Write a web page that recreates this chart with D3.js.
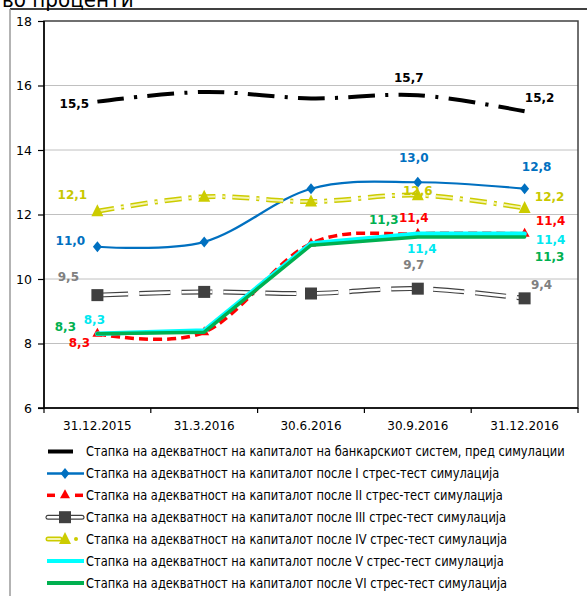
<!DOCTYPE html>
<html><head><meta charset="utf-8">
<script src="https://cdn.jsdelivr.net/npm/d3@7"></script>
<style>body{margin:0;background:#fff;overflow:hidden} svg{display:block}</style>
</head><body><svg id="c" width="587" height="596"></svg>
<script>
// ---- data ----
const categories = ["31.12.2015", "31.3.2016", "30.6.2016", "30.9.2016", "31.12.2016"];
const seriesNames = [
  "Стапка на адекватност на капиталот на банкарскиот систем, пред симулации",
  "Стапка на адекватност на капиталот после I стрес-тест симулација",
  "Стапка на адекватност на капиталот после II стрес-тест симулација",
  "Стапка на адекватност на капиталот после III стрес-тест симулација",
  "Стапка на адекватност на капиталот после IV стрес-тест симулација",
  "Стапка на адекватност на капиталот после V стрес-тест симулација",
  "Стапка на адекватност на капиталот после VI стрес-тест симулација"
];
const beforeSim = [15.5, 15.8, 15.6, 15.7, 15.2];
const stress1 = [11.0, 11.15, 12.8, 13.0, 12.8];
const stress2 = [8.3, 8.35, 11.1, 11.4, 11.4];
const stress3 = [9.5, 9.6, 9.55, 9.7, 9.4];
const stress4 = [12.1, 12.55, 12.4, 12.6, 12.2];
const stress5 = [8.3, 8.4, 11.1, 11.4, 11.4];
const stress6 = [8.3, 8.35, 11.05, 11.3, 11.3];
const labelledPoints = [0, 3, 4];
const yTicks = [6, 8, 10, 12, 14, 16, 18];
const titleText = "во проценти";

// ---- layout ----
const svg = d3.select("#c");
const L = 44, R = 578, T = 21, B = 408;
const x = d3.scaleBand().domain(categories).range([L, R]);
const y = d3.scaleLinear().domain([6, 18]).range([B, T]);
const cx = c => x(c) + x.bandwidth() / 2;
const fontReg = "'DejaVu Sans', sans-serif";
const fmt = v => d3.format(".1f")(v).replace(".", ",");

// outer frame
svg.append("line").attr("x1", 10).attr("x2", 587).attr("y1", 9).attr("y2", 9).attr("stroke", "#000").attr("stroke-width", 1.5);
svg.append("line").attr("x1", 10).attr("x2", 10).attr("y1", 9).attr("y2", 596).attr("stroke", "#9a9a9a").attr("stroke-width", 1.5);
svg.append("text").attr("x", 2).attr("y", 7).attr("font-family", fontReg).attr("font-size", 21)
  .attr("fill", "#000").attr("transform", "translate(2,0) scale(0.95,1) translate(-2,0)").text(titleText);

// gridlines
svg.append("g").selectAll("line").data(yTicks.filter(t => t > 6 && t < 18)).join("line")
  .attr("x1", L).attr("x2", R).attr("y1", d => y(d)).attr("y2", d => y(d))
  .attr("stroke", "#c0c0c0").attr("stroke-width", 1);

// plot border
svg.append("rect").attr("x", L).attr("y", T).attr("width", R - L).attr("height", B - T)
  .attr("fill", "none").attr("stroke", "#404040").attr("stroke-width", 1.5);

// axes
const yAxis = svg.append("g").attr("transform", `translate(${L},0)`)
  .call(d3.axisLeft(y).tickValues(yTicks).tickSize(6).tickPadding(6).tickFormat(d3.format("d")));
const xAxis = svg.append("g").attr("transform", `translate(0,${B})`)
  .call(d3.axisBottom(x).tickSize(0).tickPadding(13));
[yAxis, xAxis].forEach(g => {
  g.select(".domain").attr("stroke", "#000").attr("stroke-width", 1.5);
  g.selectAll(".tick line").attr("stroke", "#000").attr("stroke-width", 1.2);
  g.selectAll("text").attr("font-family", fontReg).attr("font-size", 12.5).attr("fill", "#000");
});
yAxis.select(".domain").attr("d", `M0,${T}V${B}`);
xAxis.select(".domain").attr("d", `M${L - 6},0H${R}`);
xAxis.selectAll("text").attr("font-size", 12);
// x boundary ticks
svg.append("g").selectAll("line").data(d3.range(categories.length + 1)).join("line")
  .attr("x1", i => L + i * x.step()).attr("x2", i => L + i * x.step())
  .attr("y1", B).attr("y2", B + 5).attr("stroke", "#000").attr("stroke-width", 1.2);

// ---- series ----
const smooth = d3.curveCardinal.tension(0);
const series = [
  { vals: beforeSim, color: "#000000", label: "#000000", curve: smooth, styles: [{ w: 4, dash: [26, 10, 3, 10], fit: true }], marker: null,
    offs: [[-23, 2], [-9, -17], [15, -13]] },
  { vals: stress1, color: "#0070C0", label: "#0070C0", curve: smooth, styles: [{ w: 2.2 }], marker: "diamond",
    offs: [[-27, -6], [-4, -24], [12, -22]] },
  { vals: stress2, color: "#FF0000", label: "#FF0000", curve: smooth, styles: [{ w: 3.5, dash: [9, 5] }], marker: "tri-small",
    offs: [[-18, 9], [-4, -16], [26, -13]] },
  { vals: stress3, color: "#404040", label: "#808080", curve: smooth, styles: [{ w: 5, dash: [31, 11], col: "#404040" }, { w: 2.6, dash: [31, 11], col: "#ffffff" }], marker: "square",
    offs: [[-29, -18], [-4, -24], [17, -13]] },
  { vals: stress4, color: "#CCCC00", label: "#C8C800", curve: smooth, styles: [{ w: 5, dash: [17, 7, 3, 7], col: "#CCCC00" }, { w: 2, dash: [17, 7, 3, 7], col: "#f4f4b0" }], marker: "tri-big",
    offs: [[-25, -16], [0, -4], [25, -11]] },
  { vals: stress5, color: "#00FFFF", label: "#00E8F0", curve: d3.curveLinear, styles: [{ w: 4.5 }], marker: null,
    offs: [[-3, -14], [4, 15], [26, 6]] },
  { vals: stress6, color: "#00B050", label: "#00B050", curve: d3.curveLinear, styles: [{ w: 3.5 }], marker: null,
    offs: [[-32, -7], [-34, -17], [25, 20]] }
];

function drawMarker(g, type, px, py, color) {
  if (type === "diamond") {
    g.append("path").attr("d", `M${px},${py - 5.5}L${px + 4.5},${py}L${px},${py + 5.5}L${px - 4.5},${py}Z`).attr("fill", color);
  } else if (type === "tri-small") {
    g.append("path").attr("d", `M${px},${py - 6}L${px + 5},${py + 3}L${px - 5},${py + 3}Z`).attr("fill", color);
  } else if (type === "tri-big") {
    g.append("path").attr("d", `M${px},${py - 7}L${px + 6},${py + 5}L${px - 6},${py + 5}Z`).attr("fill", color);
  } else if (type === "square") {
    g.append("rect").attr("x", px - 6).attr("y", py - 6).attr("width", 12).attr("height", 12).attr("fill", color);
  }
}

const plotG = svg.append("g");
series.forEach(s => {
  const line = d3.line().x((d, i) => cx(categories[i])).y(d => y(d)).curve(s.curve);
  s.styles.forEach(st => {
    const p = plotG.append("path").attr("d", line(s.vals)).attr("fill", "none")
      .attr("stroke", st.col || s.color).attr("stroke-width", st.w)
      .attr("stroke-linecap", st.dash ? "butt" : "round")
      .attr("stroke-linejoin", "round");
    if (st.dash) {
      let dash = st.dash;
      if (st.fit) {
        // stretch the pattern so the line starts and ends on a full dash
        const len = p.node().getTotalLength();
        const period = d3.sum(dash);
        const n = Math.max(1, Math.round((len - dash[0]) / period));
        const f = len / (n * period + dash[0]);
        dash = dash.map(v => v * f);
      }
      p.attr("stroke-dasharray", dash.join(","));
    }
  });
  if (s.marker) s.vals.forEach((v, i) => drawMarker(plotG, s.marker, cx(categories[i]), y(v), s.color));
});
const labelG = svg.append("g");
series.forEach(s => {
  labelledPoints.forEach((i, k) => {
    labelG.append("text").attr("x", cx(categories[i]) + s.offs[k][0]).attr("y", y(s.vals[i]) + s.offs[k][1])
      .attr("text-anchor", "middle").attr("dominant-baseline", "central")
      .attr("font-family", fontReg).attr("font-weight", "bold").attr("font-size", 12)
      .attr("fill", s.label).text(fmt(s.vals[i]));
  });
});

// ---- legend ----
const legG = svg.append("g");
const legTexts = [];
series.forEach((s, i) => {
  const ly = 451.5 + i * 21.9;
  const g = legG.append("g");
  if (i === 0) {
    g.append("line").attr("x1", 48).attr("x2", 73).attr("y1", ly).attr("y2", ly).attr("stroke", s.color).attr("stroke-width", 4);
  } else if (i === 2) {
    [[47, 55], [75, 83]].forEach(p => g.append("line").attr("x1", p[0]).attr("x2", p[1]).attr("y1", ly).attr("y2", ly).attr("stroke", s.color).attr("stroke-width", 3.5));
    drawMarker(g, s.marker, 65, ly, s.color);
  } else if (i === 3) {
    g.append("line").attr("x1", 48).attr("x2", 82).attr("y1", ly).attr("y2", ly).attr("stroke", s.color).attr("stroke-width", 5).attr("stroke-linecap", "round");
    g.append("line").attr("x1", 48).attr("x2", 82).attr("y1", ly).attr("y2", ly).attr("stroke", "#fff").attr("stroke-width", 2.6).attr("stroke-linecap", "round");
    drawMarker(g, s.marker, 65, ly, s.color);
  } else if (i === 4) {
    g.append("line").attr("x1", 48).attr("x2", 60).attr("y1", ly).attr("y2", ly).attr("stroke", s.color).attr("stroke-width", 5).attr("stroke-linecap", "round");
    g.append("line").attr("x1", 48).attr("x2", 60).attr("y1", ly).attr("y2", ly).attr("stroke", "#f4f4b0").attr("stroke-width", 2).attr("stroke-linecap", "round");
    drawMarker(g, s.marker, 65, ly, s.color);
    g.append("circle").attr("cx", 76).attr("cy", ly).attr("r", 2).attr("fill", s.color);
  } else {
    g.append("line").attr("x1", 47).attr("x2", 84).attr("y1", ly).attr("y2", ly).attr("stroke", s.color).attr("stroke-width", s.styles[0].w > 3 ? 4 : 2.5);
    if (s.marker) drawMarker(g, s.marker, 65, ly, s.color);
  }
  const tg = g.append("g").attr("transform", `translate(86,${ly})`);
  legTexts.push(tg);
  tg.append("text").attr("x", 0).attr("y", 0).attr("dominant-baseline", "central")
    .attr("font-family", fontReg).attr("font-size", 14).attr("fill", "#000").text(seriesNames[i]);
});
// condense legend text so the first entry spans the same width as the reference
const natural = legTexts[0].select("text").node().getComputedTextLength();
const k = 479 / natural;
legTexts.forEach((tg, i) => tg.attr("transform", `translate(86,${451.5 + i * 21.9}) scale(${k},1)`));
</script></body></html>
